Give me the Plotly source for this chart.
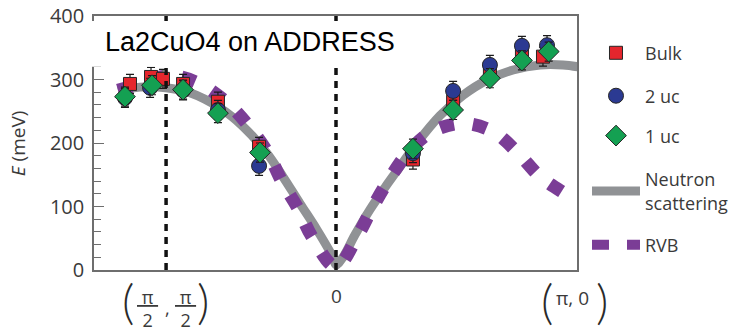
import plotly.graph_objects as go

# ---------------- data (k along path, (pi,0) = 1, (pi/2,pi/2) = -0.711) ----------------
bulk_k = [-0.862, -0.774, -0.724, -0.640, -0.494, -0.322, 0.322, 0.490, 0.644, 0.778, 0.866]
bulk_E = [293, 304, 301, 293, 265, 194, 174, 265, 312, 339, 336]
bulk_err = [15, 15, 15, 15, 15, 15, 15, 15, 15, 15, 15]

uc2_k = [-0.883, -0.778, -0.640, -0.494, -0.322, 0.322, 0.490, 0.644, 0.778, 0.883]
uc2_E = [271, 287, 283, 252, 164, 184, 282, 323, 353, 354]
uc2_err = [15, 15, 15, 15, 15, 15, 15, 15, 15, 15]

uc1_k = [-0.883, -0.770, -0.640, -0.494, -0.318, 0.322, 0.490, 0.644, 0.778, 0.890]
uc1_E = [273, 291, 284, 247, 185, 191, 252, 302, 330, 344]
uc1_err = [15, 15, 15, 15, 15, 15, 15, 15, 15, 15]

neut_k = [-0.912, -0.820, -0.711, -0.611, -0.485, -0.389, -0.289, -0.222, -0.151, -0.079,
          -0.013, 0.0, 0.029, 0.079, 0.142, 0.205, 0.268, 0.339, 0.435, 0.531, 0.632,
          0.741, 0.854, 0.950, 1.013]
neut_E = [282, 288, 287, 279, 255, 226, 184, 147, 105, 63,
          20, 8, 20, 55, 95, 130, 163, 200, 243, 275, 299,
          315, 323, 323, 320]

rvb_k = [-0.912, -0.841, -0.695, -0.569, -0.452, -0.368, -0.285, -0.226, -0.159, -0.100,
         0.0, 0.092, 0.155, 0.226, 0.310, 0.402, 0.531, 0.657, 0.762, 0.854, 0.967, 1.008]
rvb_E = [283, 291, 306, 293, 262, 228, 184, 139, 97, 52,
         5, 55, 100, 145, 189, 218, 231, 218, 184, 147, 118, 108]

k_node_pi2 = -0.711   # (pi/2, pi/2)
k_node_G = 0.0        # Gamma
k_node_pi0 = 1.0      # (pi, 0)

y_ticks = [0, 100, 200, 300, 400]

FONT = "Open Sans"
TXT = "#3a3a3a"
AX = "#6e6e6e"
PURPLE = "#7b3d96"

fig = go.Figure()

fig.add_trace(go.Scatter(
    x=neut_k, y=neut_E, mode="lines", name="Neutron<br>scattering",
    line=dict(color="#909295", width=9, shape="spline", smoothing=1.0),
    legend="legend4"))

fig.add_trace(go.Scatter(
    x=rvb_k, y=rvb_E, mode="lines", name="RVB", showlegend=False,
    line=dict(color=PURPLE, width=13, dash="14px,19px", shape="spline", smoothing=1.0)))
# legend entry for RVB (same series, legend sample drawn with the reference's dash phase)
fig.add_trace(go.Scatter(
    x=[None], y=[None], mode="lines", name="RVB",
    line=dict(color=PURPLE, width=13, dash="17px,18px"), legend="legend5"))

def pts(k, E, err, name, sym, color, size, leg):
    fig.add_trace(go.Scatter(
        x=k, y=E, mode="markers", name=name,
        marker=dict(symbol=sym, color=color, size=size, line=dict(color="#262626", width=1)),
        error_y=dict(type="data", array=err, color="#1a1a1a", thickness=1.2, width=4),
        legend=leg))

pts(bulk_k, bulk_E, bulk_err, "Bulk", "square", "#e5262d", 13, "legend")
pts(uc2_k, uc2_E, uc2_err, "2 uc", "circle", "#2b3a92", 15, "legend2")
pts(uc1_k, uc1_E, uc1_err, "1 uc", "diamond", "#14a052", 16, "legend3")

# dashed vertical guide lines at the symmetry points
for kx in [k_node_pi2, k_node_G]:
    fig.add_shape(type="line", xref="x", yref="y", x0=kx, x1=kx, y0=0, y1=400,
                  line=dict(color="#111111", width=3.5, dash="7px,6px"), layer="above")

# white box behind the title
fig.add_shape(type="rect", xref="paper", yref="paper", x0=-0.006, x1=0.64, y0=0.80, y1=0.98,
              fillcolor="white", line=dict(width=0), layer="above")

ann = []
ann.append(dict(text="La2CuO4 on ADDRESS", xref="paper", yref="paper", x=0.018, y=0.897,
                xanchor="left", yanchor="middle", showarrow=False,
                font=dict(family="Liberation Sans, Arial", size=27, color="black")))
# y-axis title
ann.append(dict(text="<i>E</i> (meV)", xref="paper", yref="paper", x=-0.157, y=0.50,
                textangle=-90, xanchor="center", yanchor="middle", showarrow=False,
                font=dict(family=FONT, size=19, color=TXT)))
# x tick labels
ann.append(dict(text="0", xref="x", yref="paper", x=k_node_G, y=-0.102, showarrow=False,
                xanchor="center", yanchor="middle", font=dict(family=FONT, size=19, color=TXT)))
ann.append(dict(text="π, 0", xref="x", yref="paper", x=k_node_pi0, y=-0.112, xshift=-2,
                showarrow=False, xanchor="center", yanchor="middle",
                font=dict(family=FONT, size=19, color=TXT)))
PAREN = dict(family="Lato", size=48, color="#2a2a2a", weight=300)
for txt, dx in [("(", -28), (")", 27)]:
    ann.append(dict(text=txt, xref="x", yref="paper", x=k_node_pi0, y=-0.12, xshift=dx,
                    showarrow=False, xanchor="center", yanchor="middle", font=PAREN))
for txt, dx in [("(", -38), (")", 37)]:
    ann.append(dict(text=txt, xref="x", yref="paper", x=k_node_pi2, y=-0.12, xshift=dx,
                    showarrow=False, xanchor="center", yanchor="middle", font=PAREN))
for dx in [-19, 19]:
    ann.append(dict(text="<u>&nbsp;π&nbsp;</u><br>2", xref="x", yref="paper", x=k_node_pi2,
                    y=-0.15, xshift=dx, showarrow=False, xanchor="center", yanchor="middle",
                    font=dict(family=FONT, size=18, color=TXT)))
ann.append(dict(text=",", xref="x", yref="paper", x=k_node_pi2, y=-0.15, xshift=1,
                showarrow=False, xanchor="center", yanchor="middle",
                font=dict(family=FONT, size=18, color=TXT)))

leg_common = dict(xanchor="left", yanchor="middle", bgcolor="rgba(0,0,0,0)",
                  font=dict(family=FONT, size=18, color=TXT), itemwidth=48)
lx = 1.0207
fig.update_layout(
    width=739, height=331,
    margin=dict(l=94, r=162, t=16, b=61, autoexpand=False),
    paper_bgcolor="white", plot_bgcolor="white",
    showlegend=True,
    legend=dict(x=lx, y=0.854, **leg_common),
    legend2=dict(x=lx, y=0.685, **leg_common),
    legend3=dict(x=lx, y=0.528, **leg_common),
    legend4=dict(x=lx, y=0.311, **leg_common),
    legend5=dict(x=lx, y=0.098, **leg_common),
    annotations=ann,
    xaxis=dict(range=[-1.0126, 1.0084], showgrid=False, zeroline=False, showticklabels=False,
               ticks="", showline=True, linecolor=AX, linewidth=1.5, mirror=True),
    yaxis=dict(range=[0, 400], tickvals=y_ticks, showgrid=False, zeroline=False,
               ticks="inside", ticklen=10, tickcolor=AX, tickwidth=1.2,
               showline=True, linecolor=AX, linewidth=1.5, mirror=True,
               ticklabelstandoff=4,
               tickfont=dict(family=FONT, size=20, color=TXT),
               minor=dict(dtick=20, ticks="inside", ticklen=7, tickcolor=AX, tickwidth=1.2)),
)

fig.write_html("out.html")
